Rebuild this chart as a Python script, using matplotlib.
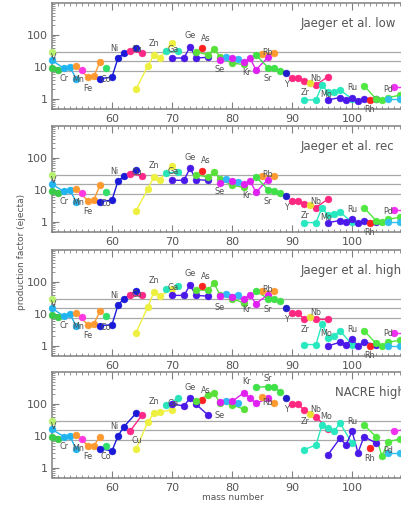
import matplotlib
matplotlib.use("Agg")
import matplotlib.pyplot as plt
from matplotlib.ticker import FixedLocator, MultipleLocator, LogLocator, NullFormatter, FixedFormatter

# ---------------- data ----------------
iso_elem = ['Ti', 'V', 'V', 'Cr', 'Cr', 'Cr', 'Cr', 'Mn', 'Fe', 'Fe', 'Fe', 'Fe', 'Co',
            'Ni', 'Ni', 'Ni', 'Ni', 'Ni', 'Cu', 'Cu', 'Zn', 'Zn', 'Zn', 'Zn', 'Zn', 'Ga', 'Ga',
            'Ge', 'Ge', 'Ge', 'Ge', 'Ge', 'As', 'Se', 'Se', 'Se', 'Se', 'Se', 'Se', 'Br', 'Br',
            'Kr', 'Kr', 'Kr', 'Kr', 'Kr', 'Kr', 'Rb', 'Rb', 'Sr', 'Sr', 'Sr', 'Sr', 'Y',
            'Zr', 'Zr', 'Zr', 'Zr', 'Zr', 'Nb', 'Mo', 'Mo', 'Mo', 'Mo', 'Mo', 'Mo', 'Mo',
            'Ru', 'Ru', 'Ru', 'Ru', 'Ru', 'Ru', 'Ru', 'Rh', 'Pd', 'Pd', 'Pd', 'Pd', 'Pd',
            'Ag', 'Ag', 'Cd', 'Cd']
iso_mass = [50, 50, 51, 50, 52, 53, 54, 55, 54, 56, 57, 58, 59,
            58, 60, 61, 62, 64, 63, 65, 64, 66, 67, 68, 70, 69, 71,
            70, 72, 73, 74, 76, 75, 74, 76, 77, 78, 80, 82, 79, 81,
            78, 80, 82, 83, 84, 86, 85, 87, 84, 86, 87, 88, 89,
            90, 91, 92, 94, 96, 93, 92, 94, 95, 96, 97, 98, 100,
            96, 98, 99, 100, 101, 102, 104, 103, 102, 104, 105, 106, 108,
            107, 109, 106, 108]

pf_low = [30, 9.5, 8, 16, 9, 10, 4.3, 8, 10.5, 4.8, 5.2, 14.5, 9,
          4.3, 4.8, 19, 27, 40, 32, 27, 2.0, 11, 24, 19, 57, 32, 32,
          19, 19, 43, 19, 20, 38, 30, 24, 36, 21, 13, 12, 21, 17.4,
          16.5, 18.7, 14.6, 18.7, 8.1, 20, 26, 27, 24, 9.5, 9, 7.7, 6.3,
          4.4, 4.4, 3.5, 2.7, 5.0, 3.2, 0.93, 0.93, 2.7, 1.6, 1.7, 1.9, 1.0,
          0.93, 1.1, 0.93, 1.1, 0.85, 1.0, 1.0, 0.95, 2.6, 1.0, 0.95, 1.1, 1.3,
          2.4, 2.4, 1.0, 1.0]
pf_rec = [30, 9.5, 8, 15, 9, 10, 4.3, 8, 10.5, 4.6, 5, 14, 8.5,
          4.3, 4.8, 19, 27, 42, 32, 28, 2.2, 11, 26, 21, 57, 34, 36,
          20, 20, 48, 21, 20, 40, 30, 25, 36, 22, 14, 12, 22, 18,
          17, 19, 15, 19, 8.5, 21, 27, 28, 26, 10, 9.5, 8, 6.5,
          4.5, 4.5, 3.6, 2.8, 5.2, 3.3, 0.95, 0.95, 2.8, 1.6, 1.8, 2.0, 1.0,
          0.95, 1.1, 1.0, 1.2, 0.9, 1.1, 1.0, 0.95, 2.8, 1.1, 1.0, 1.2, 1.4,
          2.4, 2.4, 1.0, 1.0]
pf_high = [30, 9.5, 8, 15, 8.5, 10, 4.2, 8, 10.5, 4.6, 5, 12, 8.5,
           4.3, 4.6, 19, 30, 53, 38, 38, 2.6, 17, 50, 36, 60, 60, 75,
           38, 38, 80, 38, 36, 75, 55, 56, 90, 40, 30, 22, 42, 38,
           36, 35, 30, 38, 21, 40, 52, 52, 52, 30, 29, 26, 15,
           10.6, 10.6, 7, 6.7, 6.7, 8, 1.1, 1.1, 4.9, 1.8, 2.0, 3.0, 1.1,
           1.0, 1.3, 1.1, 1.6, 1.0, 1.3, 1.1, 1.0, 3.0, 1.2, 1.0, 1.3, 1.5,
           2.6, 2.6, 1.0, 1.0]
pf_nacre = [30, 9.5, 8, 16, 9.5, 10, 3.8, 8.3, 10.5, 5, 5, 9.5, 5,
            4, 3.4, 10, 19.5, 51, 14, 45, 3.8, 28, 52, 57, 65, 93, 150,
            98, 88, 150, 98, 45, 133, 120, 190, 215, 110, 95, 68, 120, 110,
            118, 120, 225, 150, 105, 150, 160, 110, 330, 350, 330, 240, 150,
            100, 100, 65, 40, 16, 50, 3.7, 5.2, 22, 18, 14, 25, 6,
            2.6, 8.4, 5.2, 14, 3, 9.5, 6, 4.1, 22, 9.5, 2.3, 6.6, 8,
            14, 16, 2.9, 2.9]

panel_values = [pf_low, pf_rec, pf_high, pf_nacre]
panel_titles = ['Jaeger et al. low', 'Jaeger et al. rec', 'Jaeger et al. high', 'NACRE high']

elements = ['Ti', 'V', 'Cr', 'Mn', 'Fe', 'Co', 'Ni', 'Cu', 'Zn', 'Ga', 'Ge', 'As', 'Se', 'Br',
            'Kr', 'Rb', 'Sr', 'Y', 'Zr', 'Nb', 'Mo', 'Ru', 'Rh', 'Pd', 'Ag', 'Cd']
element_colors = ['#b8f070', '#38cc48', '#22b4f0', '#ff38e0', '#ff9a30', '#30e068', '#1a1ad8',
                  '#ff2888', '#eef040', '#28e4b8', '#4a18e8', '#ff2020', '#58e038', '#30b8f8',
                  '#e020f0', '#ff9a30', '#40e048', '#2020c8', '#ff2880', '#e8e030', '#28e8c0',
                  '#4a18e8', '#ff2020', '#50e840', '#f030f0', '#30c0f0']

lab_elem = ['V', 'Cr', 'Mn', 'Fe', 'Co', 'Ni', 'Cu', 'Zn', 'Ga', 'Ge', 'As', 'Se', 'Kr',
            'Rb', 'Sr', 'Y', 'Zr', 'Nb', 'Mo', 'Ru', 'Rh', 'Pd']
lab_mass = [50, 52, 55, 56, 59, 61, 63, 67, 69, 73, 75, 78, 82, 85, 86, 89, 92, 93, 95, 100, 103, 106]
# label offsets (points): panels 1-3 and panel 4
lab_dx = [1, 0, -3, 0, 0, -3, 5, 0, 5, 0, 3, 0, 2, 4, 0, 0, 1, 4, 3, 0, 0, 0]
lab_dy = [7, -7, -7, -8, -8, 7, 1, 8, 1, 8, 7, -9, -8, 1, -8, -8, -8, 3, -7, 7, -7, 6]
lab_dy4 = [7, -7, -7, -8, -8, 7, -7, 8, 1, 8, 7, -9, 8, -4, 6, -8, -8, 3, 6, 7, -7, -6]

ref_lines = [7.5, 15, 30]

# ---------------- figure ----------------
W, H = 402, 505
fig = plt.figure(figsize=(W / 100, H / 100), dpi=100)
plt.rcParams['font.family'] = ['DejaVu Sans']

tops = [3, 126, 250, 372]
ph = 105.5
left_px = 52
width_px = 360  # 50..110 at 6 px per unit (extends past right edge)

gray = '#808080'
tcol = '#555555'

for k in range(4):
    top = tops[k]
    ax = fig.add_axes([left_px / W, 1 - (top + ph) / H, width_px / W, ph / H])
    vals = panel_values[k]
    ax.set_yscale('log')
    ax.set_xlim(50, 110)
    ax.set_ylim(0.5, 1000)
    for r in ref_lines:
        ax.axhline(r, color='#a8a8a8', lw=0.9, zorder=1)
    for e, c in zip(elements, element_colors):
        pts = sorted([(m, v) for el, m, v in zip(iso_elem, iso_mass, vals) if el == e])
        xs = [p[0] for p in pts]
        ys = [p[1] for p in pts]
        ax.plot(xs, ys, '-', color=c, lw=1.0, zorder=2, clip_on=False)
        ax.plot(xs, ys, 'o', color=c, ms=5.0, mec=c, mew=0.3, zorder=3, clip_on=False)
    dys = lab_dy4 if k == 3 else lab_dy
    for t, m, dx, dy in zip(lab_elem, lab_mass, lab_dx, dys):
        v = [vv for el, mm, vv in zip(iso_elem, iso_mass, vals) if el == t and mm == m][0]
        ax.annotate(t, xy=(m, v), xytext=(dx, dy), textcoords='offset points',
                    ha='center', va='center', fontsize=5.8, color='#505050', zorder=4)
    ax.text(0.692 if k < 3 else 0.785, 0.81, panel_titles[k], transform=ax.transAxes,
            fontsize=8.5, color=tcol, ha='left', va='center')

    for s in ax.spines.values():
        s.set_color(gray)
        s.set_linewidth(1.1)
    ax.xaxis.set_major_locator(MultipleLocator(10))
    ax.xaxis.set_minor_locator(MultipleLocator(1))
    ax.yaxis.set_major_locator(FixedLocator([1, 10, 100]))
    ax.yaxis.set_major_formatter(FixedFormatter(['1', '10', '100']))
    ax.yaxis.set_minor_locator(LogLocator(base=10, subs=range(2, 10)))
    ax.yaxis.set_minor_formatter(NullFormatter())
    ax.tick_params(which='both', direction='in', top=True, right=True, colors=gray,
                   labelcolor=tcol, labelsize=8)
    ax.tick_params(which='major', length=5, width=0.8)
    ax.tick_params(which='minor', length=2.5, width=0.6)
    ax.tick_params(axis='x', pad=4)
    ax.tick_params(axis='y', pad=3)
    ax.set_xticks([60, 70, 80, 90, 100])

fig.text(22 / W, 1 - 252 / H, 'production factor (ejecta)', rotation=90, fontsize=6.5,
         color=tcol, ha='center', va='center')
fig.text(233 / W, 1 - 497 / H, 'mass number', fontsize=6.5, color=tcol, ha='center', va='center')

fig.savefig('out.png', dpi=100)
